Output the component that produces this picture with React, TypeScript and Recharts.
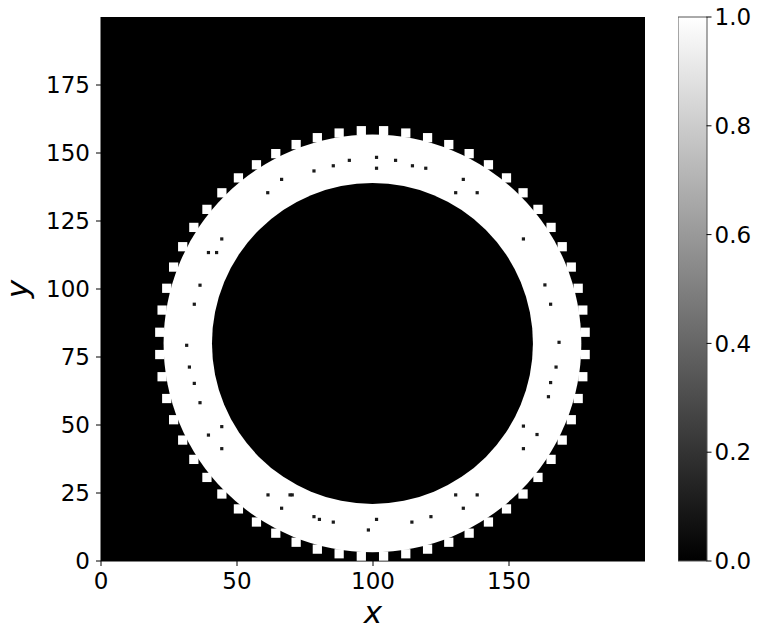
import React from 'react';
import { ScatterChart, Scatter, XAxis, YAxis, CartesianGrid, BarChart, Bar } from 'recharts';

// ---- tick labels ----
const X_TICKS = [0, 50, 100, 150];
const Y_TICKS = [0, 25, 50, 75, 100, 125, 150, 175];
const CB_TICKS = [0, 0.2, 0.4, 0.6, 0.8, 1.0];

// ---- ring (data units) ----
const RING_X = [99.8];
const RING_Y = [80];
const RING_INNER_R = [59];
const RING_OUTER_R = [76.8];

// ---- teeth on the outer edge (angles in degrees, radius of their centres) ----
const TOOTH_ANGLES = [
  3, 9, 15, 21, 27, 33, 39, 45, 51, 57, 63, 69, 75, 81, 87, 93, 99, 105, 111, 117,
  123, 129, 135, 141, 147, 153, 159, 165, 171, 177, 183, 189, 195, 201, 207, 213, 219, 225, 231, 237,
  243, 249, 255, 261, 267, 273, 279, 285, 291, 297, 303, 309, 315, 321, 327, 333, 339, 345, 351, 357,
];
const TOOTH_R = 78.3;

// ---- small dark dots inside the ring ----
const DOT_X = [
  66.4, 61.3, 78.3, 85.4, 91.3, 101.3, 101.3, 108.3, 114.5, 119.4, 133.2, 130.4, 138.3, 44.4, 155.3,
  39.5, 42.5, 36.4, 34.3, 31.5, 32.5, 34.3, 36.4, 44.4, 39.5, 44.4,
  163.2, 165.3, 168.4, 167.3, 165.3, 164.5, 155.3, 160.3, 155.3,
  61.4, 69.5, 70.3, 66.4, 78.3, 80.3, 85.4, 101.3, 98.3, 114.3, 121.3, 133.2, 130.4, 138.3,
];
const DOT_Y = [
  140.3, 135.4, 143.4, 145.3, 147.3, 148.4, 144.4, 147.3, 145.3, 144.4, 140.3, 135.4, 135.4, 118.4, 118.4,
  113.4, 113.4, 101.4, 94.4, 79.3, 71.3, 65.3, 58.2, 49.4, 46.3, 41.3,
  101.5, 94.4, 80.4, 71.3, 65.6, 60.4, 49.6, 46.5, 41.3,
  24.3, 24.3, 24.3, 19.4, 16.3, 15.3, 14.3, 15.3, 11.4, 14.3, 16.3, 19.4, 24.3, 24.3,
];

// ---- colorbar ----
const CB_DATA = [{ name: 'cb', v: 1 }];

// ---- layout ----
const FONT = 'DejaVu Sans';
const DOMAIN_MIN = 0;
const DOMAIN_MAX = 200;
const CHART_W = 650;
const CHART_H = 631;
const PLOT_TOP = 17;
const PLOT_LEFT = 101;
const PLOT_SIZE = 544;
const X_AXIS_H = CHART_H - PLOT_TOP - PLOT_SIZE;
const PX_PER_UNIT = PLOT_SIZE / (DOMAIN_MAX - DOMAIN_MIN);

const ringData = RING_X.map((x, i) => ({ x, y: RING_Y[i], rIn: RING_INNER_R[i], rOut: RING_OUTER_R[i] }));
const toothData = TOOTH_ANGLES.map((a) => ({
  x: RING_X[0] + TOOTH_R * Math.cos((a * Math.PI) / 180),
  y: RING_Y[0] + TOOTH_R * Math.sin((a * Math.PI) / 180),
}));
const dotData = DOT_X.map((x, i) => ({ x, y: DOT_Y[i] }));

const RingShape = (props: any) => {
  const { cx, cy, payload } = props;
  if (cx == null || cy == null) return null;
  return (
    <g>
      <circle cx={cx} cy={cy} r={payload.rOut * PX_PER_UNIT} fill="#ffffff" />
      <circle cx={cx} cy={cy} r={payload.rIn * PX_PER_UNIT} fill="#000000" />
    </g>
  );
};

const TOOTH_SIDE = 3.4 * PX_PER_UNIT;
const ToothShape = (props: any) => {
  const { cx, cy } = props;
  if (cx == null || cy == null) return null;
  return <rect x={cx - TOOTH_SIDE / 2} y={cy - TOOTH_SIDE / 2} width={TOOTH_SIDE} height={TOOTH_SIDE} fill="#ffffff" />;
};

const DotShape = (props: any) => {
  const { cx, cy } = props;
  if (cx == null || cy == null) return null;
  return <rect x={cx - 1.6} y={cy - 1.6} width={3.2} height={3.2} fill="#1a1a1a" />;
};

const XLabel = (props: any) => {
  const vb = props.viewBox || { x: PLOT_LEFT, y: PLOT_TOP + PLOT_SIZE, width: PLOT_SIZE, height: X_AXIS_H };
  return (
    <text x={vb.x + vb.width / 2} y={vb.y + vb.height - 8} textAnchor="middle" fontFamily={FONT} fontStyle="italic" fontSize={31} fill="#000">
      x
    </text>
  );
};

const YLabel = (props: any) => {
  const vb = props.viewBox || { x: 0, y: PLOT_TOP, width: PLOT_LEFT, height: PLOT_SIZE };
  return (
    <text transform={`translate(${vb.x + 28}, ${vb.y + vb.height / 2}) rotate(-90)`} textAnchor="middle" fontFamily={FONT} fontStyle="italic" fontSize={31} fill="#000">
      y
    </text>
  );
};

const tickStyle = { fontSize: 23, fill: '#000', fontFamily: FONT };

export default function App() {
  return (
    <div style={{ position: 'absolute', left: 0, top: 0, width: 759, height: 631, overflow: 'hidden', background: '#fff' }}>
      <div style={{ position: 'absolute', left: 0, top: 0 }}>
        <ScatterChart width={CHART_W} height={CHART_H} margin={{ top: PLOT_TOP, right: CHART_W - PLOT_LEFT - PLOT_SIZE, bottom: 0, left: 0 }}>
          <CartesianGrid horizontal={false} vertical={false} fill="#000000" stroke="none" />
          <XAxis
            type="number"
            dataKey="x"
            domain={[DOMAIN_MIN, DOMAIN_MAX]}
            ticks={X_TICKS}
            interval={0}
            allowDataOverflow
            height={X_AXIS_H}
            tickSize={5}
            tickMargin={7}
            tick={tickStyle}
            axisLine={{ stroke: '#000' }}
            tickLine={{ stroke: '#000' }}
            label={<XLabel />}
          />
          <YAxis
            type="number"
            dataKey="y"
            domain={[DOMAIN_MIN, DOMAIN_MAX]}
            ticks={Y_TICKS}
            interval={0}
            allowDataOverflow
            width={PLOT_LEFT}
            tickSize={5}
            tickMargin={6}
            tick={tickStyle}
            axisLine={{ stroke: '#000' }}
            tickLine={{ stroke: '#000' }}
            label={<YLabel />}
          />
          <Scatter data={ringData} shape={<RingShape />} isAnimationActive={false} />
          <Scatter data={toothData} shape={<ToothShape />} isAnimationActive={false} />
          <Scatter data={dotData} shape={<DotShape />} isAnimationActive={false} />
        </ScatterChart>
      </div>
      <div style={{ position: 'absolute', left: 678, top: 0 }}>
        <BarChart width={81} height={CHART_H} data={CB_DATA} margin={{ top: PLOT_TOP, right: 0, bottom: X_AXIS_H, left: 0 }} barCategoryGap={0}>
          <defs>
            <linearGradient id="cbGrad" x1="0" y1="1" x2="0" y2="0">
              <stop offset="0%" stopColor="#000000" />
              <stop offset="100%" stopColor="#ffffff" />
            </linearGradient>
          </defs>
          <XAxis dataKey="name" hide />
          <YAxis
            orientation="right"
            type="number"
            domain={[0, 1]}
            ticks={CB_TICKS}
            interval={0}
            width={52.5}
            tickSize={5}
            tickMargin={3}
            tick={tickStyle}
            tickFormatter={(v: number) => v.toFixed(1)}
            axisLine={false}
            tickLine={{ stroke: '#000' }}
          />
          <Bar dataKey="v" fill="url(#cbGrad)" stroke="#555" strokeWidth={1} isAnimationActive={false} />
        </BarChart>
      </div>
    </div>
  );
}
